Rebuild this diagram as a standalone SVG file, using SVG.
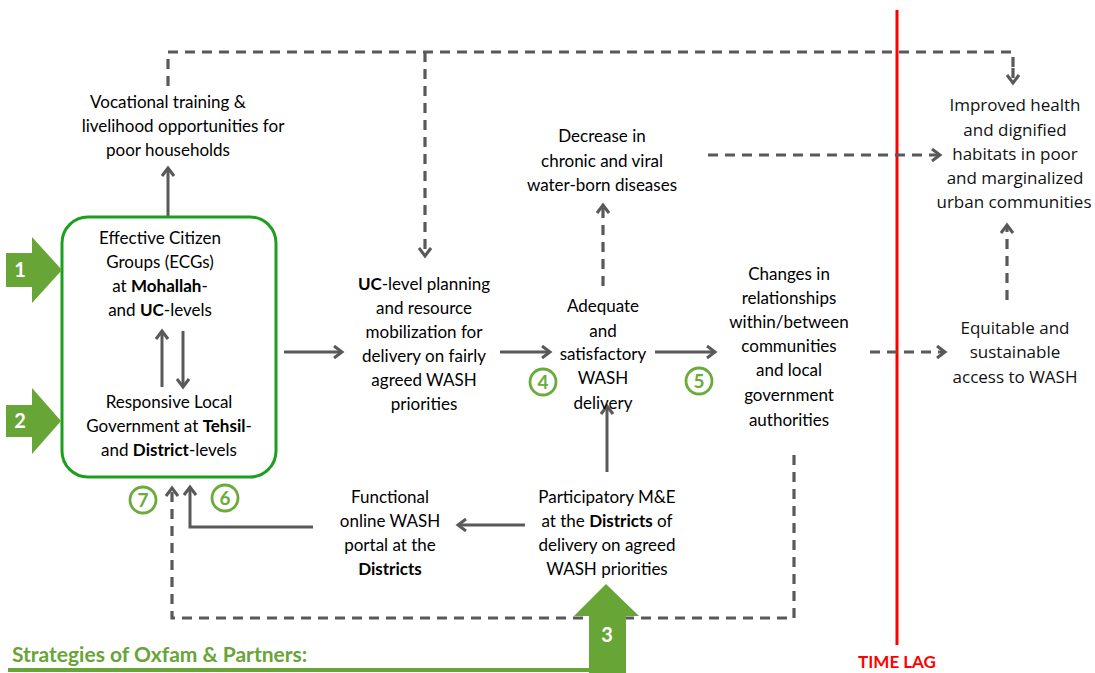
<svg xmlns="http://www.w3.org/2000/svg" width="1095" height="673" viewBox="0 0 1095 673">
<defs>
<marker id="ah" markerWidth="14" markerHeight="14" refX="11" refY="7" orient="auto" markerUnits="userSpaceOnUse">
<path d="M3,1 L11,7 L3,13" fill="none" stroke="#595959" stroke-width="3"/>
</marker>
<style>
.t{font-family:Lato,"Liberation Sans",sans-serif;font-size:17px;fill:#000;text-anchor:middle}
.r{font-family:"Open Sans","Liberation Sans",sans-serif;font-size:17px;fill:#111;text-anchor:middle}
.b{font-weight:bold}
.s{fill:none;stroke:#595959;stroke-width:3;marker-end:url(#ah)}
.d{fill:none;stroke:#595959;stroke-width:3.2;stroke-dasharray:10 7}
.da{fill:none;stroke:#595959;stroke-width:3.2;stroke-dasharray:10 7;marker-end:url(#ah)}
.ga{fill:#67a536}
.gl{font-family:Lato,"Liberation Sans",sans-serif;font-weight:bold;font-size:20px;fill:#fff;text-anchor:middle}
.c{fill:#fff;stroke:#6aab3c;stroke-width:2.8}
.cn{font-family:Lato,"Liberation Sans",sans-serif;font-weight:bold;font-size:19px;fill:#6aab3c;text-anchor:middle}
</style>
</defs>
<rect width="1095" height="673" fill="#fff"/>

<g id="timelag">
<line x1="897" y1="10" x2="897" y2="645" stroke="#ff0000" stroke-width="3"/>
<text x="897" y="668" font-family="Lato,'Liberation Sans',sans-serif" font-weight="bold" font-size="17" fill="#ff0000" text-anchor="middle">TIME LAG</text>
</g>

<g id="connectors">
<line class="s" x1="168" y1="216" x2="168" y2="168"/>
<line class="s" x1="162" y1="387" x2="162" y2="331"/>
<line class="s" x1="183" y1="331" x2="183" y2="387"/>
<line class="s" x1="284" y1="352" x2="342" y2="352"/>
<line class="s" x1="500" y1="352" x2="550" y2="352"/>
<line class="s" x1="655" y1="352" x2="715" y2="352"/>
<line class="s" x1="607" y1="472" x2="607" y2="406"/>
<line class="s" x1="525" y1="525" x2="458" y2="525"/>
<polyline class="s" points="313,527 190,527 190,487"/>
<polyline class="d" points="168,86 168,52 1013,52 1013,70"/>
<line class="da" x1="1013" y1="68" x2="1013" y2="83"/>
<line class="da" x1="425" y1="52" x2="425" y2="256"/>
<line class="da" x1="603" y1="286" x2="603" y2="205"/>
<line class="da" x1="708" y1="155" x2="940" y2="155"/>
<line class="da" x1="1007" y1="300" x2="1007" y2="225"/>
<line class="da" x1="870" y1="352" x2="945" y2="352"/>
<polyline class="da" points="794,455 794,618 172,618 172,488"/>
</g>

<g id="box">
<rect x="62" y="217" width="214" height="260" rx="26" fill="none" stroke="#1e9e1e" stroke-width="3"/>
<text class="t" x="160" y="244">Effective Citizen</text>
<text class="t" x="160" y="268">Groups (ECGs)</text>
<text class="t" x="160" y="292">at <tspan class="b">Mohallah</tspan>-</text>
<text class="t" x="160" y="316">and <tspan class="b">UC</tspan>-levels</text>
<text class="t" x="169" y="408">Responsive Local</text>
<text class="t" x="169" y="432">Government at <tspan class="b">Tehsil</tspan>-</text>
<text class="t" x="169" y="456">and <tspan class="b">District</tspan>-levels</text>
</g>

<g id="vocational">
<text class="t" x="168" y="108">Vocational training &amp;</text>
<text class="t" x="183" y="132">livelihood opportunities for</text>
<text class="t" x="168" y="156">poor households</text>
</g>

<g id="ucplanning">
<text class="t" x="424" y="290"><tspan class="b">UC</tspan>-level planning</text>
<text class="t" x="424" y="314">and resource</text>
<text class="t" x="424" y="338">mobilization for</text>
<text class="t" x="424" y="362">delivery on fairly</text>
<text class="t" x="424" y="386">agreed WASH</text>
<text class="t" x="424" y="410">priorities</text>
</g>

<g id="decrease">
<text class="t" x="602" y="142">Decrease in</text>
<text class="t" x="602" y="167">chronic and viral</text>
<text class="t" x="602" y="191">water-born diseases</text>
</g>

<g id="adequate">
<text class="t" x="603" y="312">Adequate</text>
<text class="t" x="603" y="337">and</text>
<text class="t" x="603" y="360">satisfactory</text>
<text class="t" x="603" y="384">WASH</text>
<text class="t" x="603" y="409">delivery</text>
</g>

<g id="changes">
<text class="t" x="789" y="280">Changes in</text>
<text class="t" x="789" y="304">relationships</text>
<text class="t" x="789" y="328">within/between</text>
<text class="t" x="789" y="352">communities</text>
<text class="t" x="789" y="376">and local</text>
<text class="t" x="789" y="401">government</text>
<text class="t" x="789" y="426">authorities</text>
</g>

<g id="participatory">
<text class="t" x="607" y="503">Participatory M&amp;E</text>
<text class="t" x="607" y="527">at the <tspan class="b">Districts</tspan> of</text>
<text class="t" x="607" y="551">delivery on agreed</text>
<text class="t" x="607" y="575">WASH priorities</text>
</g>

<g id="portal">
<text class="t" x="390" y="503">Functional</text>
<text class="t" x="390" y="527">online WASH</text>
<text class="t" x="390" y="551">portal at the</text>
<text class="t b" x="390" y="575">Districts</text>
</g>

<g id="improved">
<text class="r" x="1015" y="111">Improved health</text>
<text class="r" x="1015" y="136">and dignified</text>
<text class="r" x="1015" y="160">habitats in poor</text>
<text class="r" x="1015" y="184">and marginalized</text>
<text class="r" x="1014" y="208">urban communities</text>
</g>

<g id="equitable">
<text class="r" x="1015" y="334">Equitable and</text>
<text class="r" x="1015" y="358">sustainable</text>
<text class="r" x="1015" y="383">access to WASH</text>
</g>

<g id="strategy1">
<polygon class="ga" points="6,253 32,253 32,237 62,270 32,303 32,287 6,287"/>
<text class="gl" x="20" y="277">1</text>
</g>
<g id="strategy2">
<polygon class="ga" points="6,405 32,405 32,388 61,421 32,454 32,437 6,437"/>
<text class="gl" x="20" y="428">2</text>
</g>
<g id="strategy3">
<line x1="8" y1="670" x2="592" y2="670" stroke="#67a536" stroke-width="4"/>
<polygon class="ga" points="589,673 589,616 574,616 606,584 639,616 626,616 626,673"/>
<text class="gl" x="607" y="642">3</text>
<text x="12" y="662" font-family="Lato,'Liberation Sans',sans-serif" font-weight="bold" font-size="21" fill="#67a536">Strategies of Oxfam &amp; Partners:</text>
</g>

<g id="marker4"><circle class="c" cx="543" cy="382" r="13"/><text class="cn" x="543" y="389">4</text></g>
<g id="marker5"><circle class="c" cx="699" cy="381" r="13"/><text class="cn" x="699" y="388">5</text></g>
<g id="marker6"><circle class="c" cx="225" cy="498" r="13"/><text class="cn" x="225" y="505">6</text></g>
<g id="marker7"><circle class="c" cx="143" cy="500" r="13"/><text class="cn" x="143" y="507">7</text></g>
</svg>
